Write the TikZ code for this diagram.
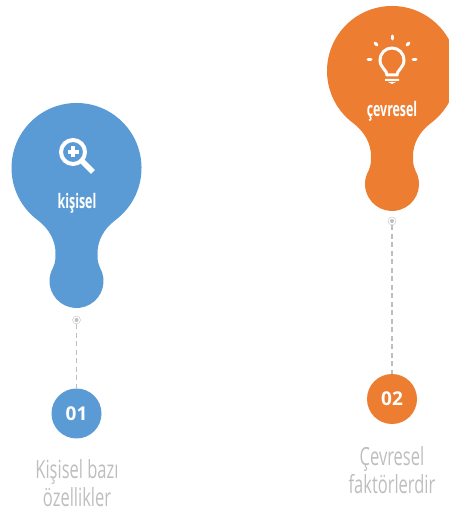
\documentclass[tikz,border=0pt]{standalone}
\usepackage{fontspec}
\setmainfont{Open Sans}
\newfontfamily\thinfont[FakeStretch=0.66]{Open Sans}
\newfontfamily\tagfont[FakeStretch=0.62]{Open Sans}
\definecolor{myblue}{RGB}{91,155,213}
\definecolor{myorange}{RGB}{237,125,49}
\definecolor{mygray}{RGB}{190,190,190}
\tikzset{
    x=1pt, y=1pt,
    badge/.style={circle, minimum size=50pt, inner sep=0pt, text=white, font=\bfseries\fontsize{19}{19}\selectfont},
    tag/.style={text=white, inner sep=0pt, font=\tagfont\bfseries\fontsize{20}{20}\selectfont},
    caption/.style={text=mygray, align=center, inner sep=0pt, font=\thinfont\fontsize{25}{28}\selectfont},
    ring/.style={draw=mygray!70, fill=white, circle, minimum size=8pt, inner sep=0pt, line width=.6pt,
        path picture={\fill[mygray] (path picture bounding box.center) circle (2pt);}},
    link/.style={draw=mygray, line width=1.3pt, dash pattern=on 5pt off 3.5pt},
    icon/.style={draw=white, line width=3pt, line cap=round},
    pin/.pic={
        \fill (-39.1,-51.9) arc[start angle=233, end angle=-53, radius=65]
            .. controls (27,-61) and (21,-73) .. (21,-85)
            .. controls (21,-91) and (21,-94) .. (23.4,-99.5)
            arc[start angle=30, end angle=-210, radius=27]
            .. controls (-21,-94) and (-21,-91) .. (-21,-85)
            .. controls (-21,-73) and (-27,-61) .. (-39.1,-51.9) -- cycle;
    },
}
\begin{document}
\begin{tikzpicture}
    \useasboundingbox (0,0) rectangle (449,512);
    \clip (0,0) rectangle (449,512);

    % first
    \path[fill=myblue] (76.5,344) pic {pin};
    \node[tag] (tagA) at (77,308.5) {kişisel};
    \draw[icon, line width=4pt] (73,360) circle (12pt);
    \draw[icon, line width=5.5pt, line cap=butt] (82,351) -- (93,340);
    \draw[icon, line width=3.5pt, line cap=butt] (67.5,360) -- (78.5,360) (73,354.5) -- (73,365.5);
    \node[ring] (ringA) at (76.5,192) {};
    \node[badge, fill=myblue] (numA) at (76.5,98.5) {\raisebox{-3pt}{01}};
    \draw[link] (ringA) -- (numA);
    \node[caption] (capA) at (77,28.5) {Kişisel bazı\\özellikler};

    % second
    \path[fill=myorange] (392,441) pic {pin};
    \node[tag] (tagB) at (392,401) {çevresel};
    \draw[icon] (387,437) .. controls (387,442) and (380,444) .. (380,452)
        arc[start angle=180, end angle=0, radius=12]
        .. controls (404,444) and (397,442) .. (397,437) -- cycle;
    \fill[white] (385,433) rectangle (399,431) (388,430) -- (396,430) -- (392,428) -- cycle;
    \foreach \a in {0,45,90,135,180}
        \draw[icon] (392,452) ++(\a:21) -- ++(\a:3);
    \node[ring] (ringB) at (392,291) {};
    \node[badge, fill=myorange] (numB) at (392,113) {\raisebox{-3pt}{02}};
    \draw[link] (ringB) -- (numB);
    \node[caption] (capB) at (392,42) {Çevresel\\faktörlerdir};
\end{tikzpicture}
\end{document}
